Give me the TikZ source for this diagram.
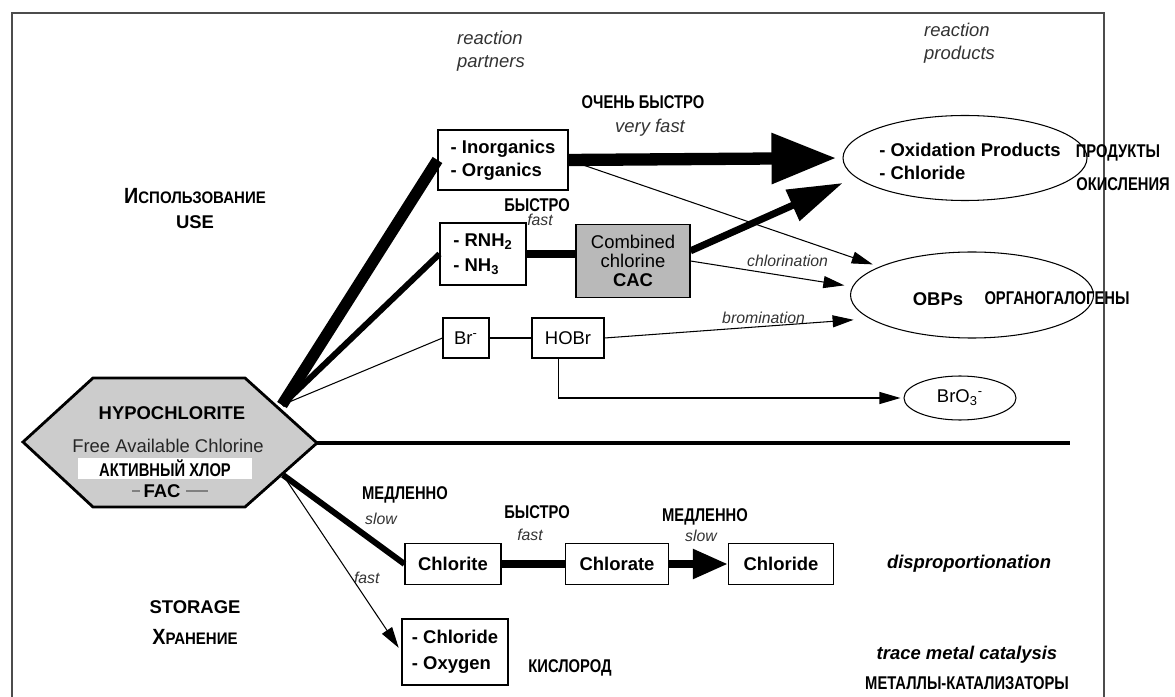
\documentclass[tikz,border=0pt]{standalone}
\usepackage{fontspec}
\setmainfont{Liberation Sans}
\usepackage{tikz}
\usetikzlibrary{arrows.meta,shapes.geometric,calc}
\newcommand{\lbl}{\fontsize{10.5}{13}\selectfont}
\newcommand{\sml}{\fontsize{9}{11}\selectfont}
\newcommand{\ru}[1]{\scalebox{0.8}[1]{\bfseries #1}}
\tikzset{
  box/.style={draw,line width=0.6pt,fill=white,align=left,font=\lbl\bfseries,inner sep=2pt},
  prod/.style={draw,ellipse,line width=0.6pt,inner sep=0pt},
  io/.style={align=center,font=\lbl\bfseries,inner sep=1pt},
  rate/.style={font=\sml\itshape,text=black!80,inner sep=1pt},
  note/.style={align=left,font=\lbl\itshape,text=black!80,inner sep=1pt},
  ln/.style={line width=0.6pt},
  ar/.style={ln,-{Triangle[length=4.2mm,width=2.4mm]}},
}

\begin{document}
\begin{tikzpicture}[x=0.2mm,y=-0.2mm]
  \useasboundingbox (0,0) rectangle (1175,697);
  \draw[line width=0.7pt,black!70] (12,697) -- (12,13) -- (1104,13) -- (1104,697);
  % hypochlorite
  \draw[fill=gray!40,line width=1.6pt,line join=miter]
    (23,442) -- (93,378) -- (245,378) -- (317,443) -- (245,507) -- (93,507) -- cycle;
  \coordinate (hexNE) at (282,405);
  \coordinate (hexSE) at (283,475);
  \coordinate (hexE) at (317,443);
  \coordinate (divR) at (1070,443);
  \node[io] (hypo) at (172,413) {HYPOCHLORITE};
  \node[io,font=\lbl,text=black!85] (fac1) at (168,446) {Free Available Chlorine};
  \node[fill=white,minimum width=34.8mm,minimum height=4.2mm,inner sep=0pt] (fac2) at (165,468) {\lbl\ru{АКТИВНЫЙ ХЛОР}};
  \node[io] (fac3) at (162,491) {FAC};
  \draw[ln,gray] ([xshift=-1]fac3.west) -- +(-8,0);
  \draw[ln,gray] ([xshift=2]fac3.east) -- +(22,0);

  % side titles
  \node[io] (use1) at (195,196) {\scalebox{0.9}[1]{\bfseries\fontsize{12.5}{13}\selectfont И\fontsize{9.5}{13}\selectfont СПОЛЬЗОВАНИЕ}};
  \node[io] (use2) at (195,222) {USE};
  \node[io] (sto1) at (195,607) {STORAGE};
  \node[io] (sto2) at (195,637) {\scalebox{0.9}[1]{\bfseries\fontsize{12.5}{13}\selectfont Х\fontsize{9.5}{13}\selectfont РАНЕНИЕ}};
  \node[note,anchor=west] (rpart) at (455,51) {reaction\\partners};
  \node[note,anchor=west] (rprod) at (922,43) {reaction\\products};

  % reaction partners
  \node[box,minimum width=26mm,minimum height=12mm] (inorg) at (503,160) {- Inorganics\\- Organics};
  \node[box,minimum width=17.2mm,minimum height=12.4mm] (rnh) at (483,254) {- RNH\textsubscript{2}\\[1pt]- NH\textsubscript{3}};
  \node[box,align=center,font=\lbl,fill=gray!55,minimum width=22.8mm,minimum height=14.6mm,inner sep=1pt] (cac) at (633,261)
    {Combined\\[-2pt]chlorine\\[-2pt]\textbf{CAC}};
  \node[box,font=\lbl,minimum width=9.2mm,minimum height=8mm] (brm) at (466,338) {Br\textsuperscript{-}};
  \node[box,font=\lbl,minimum width=14.4mm,minimum height=8mm] (hobr) at (568,338) {HOBr};

  % reaction products
  \node[prod,minimum width=48.8mm,minimum height=17mm] (oxid) at (965,158) {};
  \node[io,align=left] (oxidt) at (970,161) {- Oxidation Products\\- Chloride};
  \node[prod,minimum width=48.6mm,minimum height=17.2mm] (obp) at (972,295) {};
  \node[io] (obpt) at (938,299) {OBPs};
  \node[prod,font=\lbl,minimum width=22.4mm,minimum height=8.8mm] (bro) at (960,398) {BrO\textsubscript{3}\textsuperscript{-}};
  \node[io] (ru1) at (1118,153) {\ru{ПРОДУКТЫ}};
  \node[io] (ru2) at (1123,184) {\ru{ОКИСЛЕНИЯ}};
  \node[io] (ru3) at (1057,298) {\ru{ОРГАНОГАЛОГЕНЫ}};

  % storage products
  \node[box,minimum width=19.2mm,minimum height=8.2mm] (clite) at (453,564) {Chlorite};
  \node[box,minimum width=20.6mm,minimum height=8.2mm] (clate) at (617,564) {Chlorate};
  \node[box,minimum width=21mm,minimum height=8.2mm] (clide) at (781,564) {Chloride};
  \node[box,minimum width=21.2mm,minimum height=13.2mm] (clox) at (455,652) {- Chloride\\[2pt]- Oxygen};
  \node[io] (ru4) at (570,668) {\ru{КИСЛОРОД}};
  \node[io,font=\lbl\bfseries\itshape] (disp) at (969,564) {disproportionation};
  \node[io,font=\lbl\bfseries\itshape] (trace) at (967,655) {trace metal catalysis};
  \node[io] (ru5) at (967,683) {\ru{МЕТАЛЛЫ-КАТАЛИЗАТОРЫ}};

  % rate labels
  \node[io] (vf1) at (643,102) {\ru{ОЧЕНЬ БЫСТРО}};
  \node[rate,font=\lbl\itshape] (vf2) at (650,128) {very fast};
  \node[io] (f1) at (537,205) {\ru{БЫСТРО}};
  \node[rate] (f2) at (540,220) {fast};
  \node[io] (s1) at (405,495) {\ru{МЕДЛЕННО}};
  \node[rate] (s2) at (381,519) {slow};
  \node[io] (f3) at (537,512) {\ru{БЫСТРО}};
  \node[rate] (f4) at (530,535) {fast};
  \node[io] (s3) at (705,517) {\ru{МЕДЛЕННО}};
  \node[rate] (s4) at (701,536) {slow};

  % use
  \draw[line width=6.5pt] (hexNE) -- (inorg.west);
  \draw[line width=3.4pt] (hexNE) -- (rnh.west);
  \draw[ln] (hexNE) -- (brm.west);
  \draw[line width=7pt,-{Triangle[length=13mm,width=9.6mm]},shorten >=1.2mm] (inorg.east) -- (oxid.west);
  \draw[ar,shorten >=1.4mm] (inorg.east) -- (obp.163);
  \draw[line width=4.5pt] (rnh.east) -- (rnh.east -| cac.west);
  \draw[line width=4pt,-{Triangle[length=11mm,width=6.5mm]},shorten >=2.8mm] (cac.10) -- (oxid.190);
  \draw[ar,shorten >=1.6mm] (cac.east) -- node[rate,above,pos=0.6,yshift=4pt] {chlorination} (obp.176);
  \draw[ln] (brm.east) -- (hobr.west);
  \draw[ar,shorten >=3.2mm] (hobr.east) -- node[rate,above,pos=0.6] {bromination} (obp.193);
  \draw[ar,shorten >=0.6mm] (hobr.245) |- (bro.west);
  \draw[line width=2.8pt] (hexE) -- (divR);
  % storage
  \draw[line width=3.4pt] (hexSE) -- (clite.west);
  \draw[ar,shorten >=1mm] (hexSE) -- node[rate,right,pos=0.58] {fast} (clox.west);
  \draw[line width=4.5pt] (clite.east) -- (clate.west);
  \draw[line width=4.5pt,-{Triangle[length=7mm,width=5.6mm]}] (clate.east) -- (clide.west);
\end{tikzpicture}
\end{document}
